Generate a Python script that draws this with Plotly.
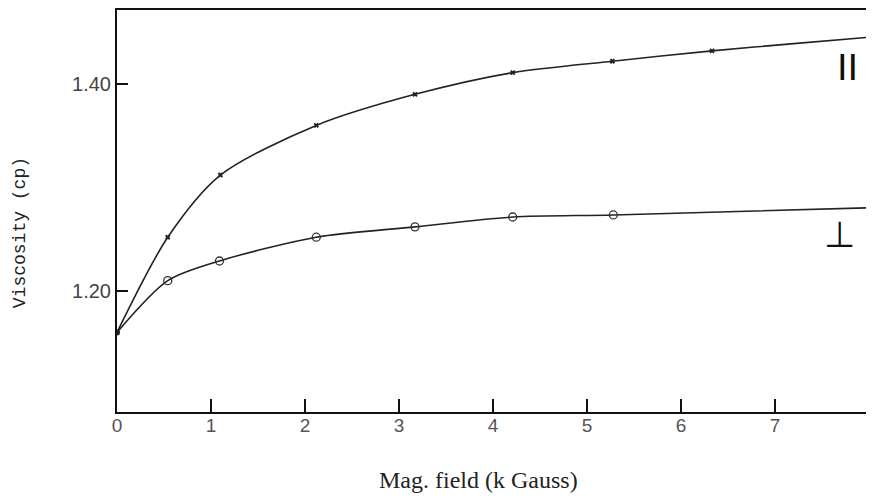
import plotly.graph_objects as go

# Data
field_pts = [0.0, 0.54, 1.10, 2.12, 3.17, 4.21, 5.27, 6.33]
visc_parallel = [1.160, 1.252, 1.312, 1.360, 1.390, 1.411, 1.422, 1.432]
field_perp_pts = [0.0, 0.54, 1.09, 2.12, 3.17, 4.21, 5.28]
visc_perp = [1.160, 1.210, 1.229, 1.252, 1.262, 1.2715, 1.2735]
# curve continuation to the right edge (no marker)
field_end = [7.2, 8.05]
visc_parallel_end = [1.439, 1.4455]
visc_perp_end = [1.2755, 1.2805]

x_ticks = [0, 1, 2, 3, 4, 5, 6, 7]
y_ticks = [1.20, 1.40]
y_tick_text = ["1.20", "1.40"]

fig = go.Figure()

line_style = dict(color="#222222", width=1.6, shape="spline", smoothing=0.8)

fig.add_trace(go.Scatter(x=field_pts + field_end, y=visc_parallel + visc_parallel_end,
                         mode="lines", line=line_style, hoverinfo="skip"))
fig.add_trace(go.Scatter(x=field_perp_pts + field_end[1:],
                         y=visc_perp + visc_perp_end[1:],
                         mode="lines", line=line_style, hoverinfo="skip"))

fig.add_trace(go.Scatter(x=field_pts[1:], y=visc_parallel[1:], mode="markers",
                         marker=dict(symbol="x-thin", size=4, color="#222",
                                     line=dict(color="#222", width=2))))
fig.add_trace(go.Scatter(x=field_perp_pts[1:], y=visc_perp[1:], mode="markers",
                         marker=dict(symbol="circle-open", size=8, color="#333",
                                     line=dict(color="#333", width=1.3))))
fig.add_trace(go.Scatter(x=field_pts[:1], y=visc_parallel[:1], mode="markers",
                         marker=dict(symbol="circle", size=6, color="#222")))

fig.add_annotation(x=7.77, y=1.4164, text="II", showarrow=False,
                   font=dict(family="DejaVu Sans", size=36, color="#111"))
fig.add_annotation(x=7.69, y=1.255, text="⊥", showarrow=False,
                   font=dict(family="DejaVu Sans", size=36, color="#111"))

# axis titles (placed as in the reference)
fig.add_annotation(xref="paper", yref="paper", x=0.478, y=-0.17, yanchor="middle",
                   text="Mag. field (k Gauss)", showarrow=False,
                   font=dict(family="Liberation Serif", size=24, color="#222"))
fig.add_annotation(xref="paper", yref="paper", x=-0.128, y=0.445, xanchor="center",
                   yanchor="middle", textangle=-90,
                   text="Viscosity (cp)", showarrow=False,
                   font=dict(family="Liberation Mono", size=18, color="#222"))

fig.update_layout(
    width=866, height=491,
    margin=dict(l=109, r=0, t=2, b=87),
    paper_bgcolor="white", plot_bgcolor="white",
    showlegend=False,
    xaxis=dict(range=[0, 8.053], tickvals=x_ticks, ticks="inside", ticklen=13,
               tickwidth=1.5, tickcolor="#111", ticklabelstandoff=-5,
               showline=True, linecolor="#111", linewidth=2, mirror=True,
               showgrid=False, zeroline=False,
               tickfont=dict(family="Liberation Sans", size=19, color="#555")),
    yaxis=dict(range=[1.0831, 1.4715], tickvals=y_ticks, ticktext=y_tick_text,
               ticks="inside", ticklen=11, tickwidth=1.5, tickcolor="#111",
               showline=True, linecolor="#111", linewidth=2, mirror=False,
               showgrid=False, zeroline=False,
               tickfont=dict(family="Liberation Sans", size=20, color="#444")),
)

fig.write_html("out.html")
